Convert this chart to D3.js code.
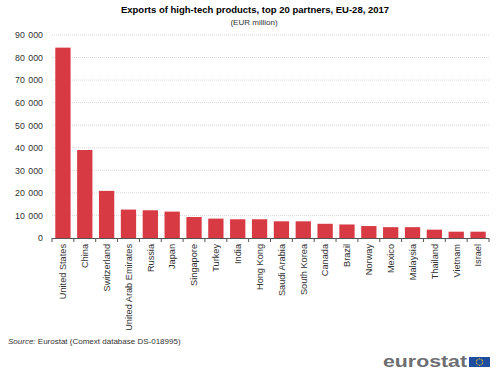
<!DOCTYPE html>
<html>
<head>
<meta charset="utf-8">
<script src="https://cdn.jsdelivr.net/npm/d3@7"></script>
<style>
  body { margin: 0; background: #fff; }
  text { font-family: "Liberation Sans", Arial, sans-serif; fill: #333; }
</style>
</head>
<body>
<div id="chart"></div>
<script>
// partners, EUR million
var partners = ["United States", "China", "Switzerland", "United Arab Emirates", "Russia",
    "Japan", "Singapore", "Turkey", "India", "Hong Kong", "Saudi Arabia", "South Korea",
    "Canada", "Brazil", "Norway", "Mexico", "Malaysia", "Thailand", "Vietnam", "Israel"];
var exportsEur = [84400, 39000, 20900, 12600, 12300, 11700, 9300, 8600, 8300, 8300,
    7400, 7400, 6300, 6000, 5300, 4800, 4800, 3700, 2800, 2800];
var yTicks = [0, 10000, 20000, 30000, 40000, 50000, 60000, 70000, 80000, 90000];

var width = 500, height = 385;
var margin = {left: 52, right: 11, top: 35, bottom: 147};

var svg = d3.select("#chart").append("svg")
    .attr("width", width)
    .attr("height", height);

var x = d3.scaleBand()
    .domain(partners)
    .range([margin.left, width - margin.right])
    .paddingInner(0.3)
    .paddingOuter(0.15);

var y = d3.scaleLinear()
    .domain([0, 90000])
    .range([height - margin.bottom, margin.top]);

var fmt = function (d) { return d3.format(",")(d).replace(/,/g, " "); };

// title
svg.append("text")
    .attr("x", 255).attr("y", 13)
    .attr("text-anchor", "middle")
    .style("font-size", "9.5px").style("font-weight", "bold")
    .style("fill", "#000")
    .text("Exports of high-tech products, top 20 partners, EU-28, 2017");
svg.append("text")
    .attr("x", 254).attr("y", 25)
    .attr("text-anchor", "middle")
    .style("font-size", "8px")
    .text("(EUR million)");

// gridlines
svg.append("g").selectAll("line")
    .data(yTicks.filter(function (d) { return d > 0; }))
    .enter().append("line")
    .attr("x1", margin.left).attr("x2", width - margin.right)
    .attr("y1", function (d) { return y(d); })
    .attr("y2", function (d) { return y(d); })
    .style("stroke", "#d9d9d9")
    .style("stroke-width", 1)
    .style("stroke-dasharray", "1,1");

// y axis labels
var yAxis = d3.axisLeft(y).tickValues(yTicks).tickFormat(fmt).tickSize(0).tickPadding(9);
var gy = svg.append("g")
    .attr("transform", "translate(" + margin.left + ",0)")
    .call(yAxis);
gy.select(".domain").remove();
gy.selectAll("text")
    .style("font-size", "8.8px")
    .style("font-family", "Liberation Sans, Arial, sans-serif")
    .style("word-spacing", "1px")
    .style("fill", "#333");

// bars
svg.append("g").selectAll("rect")
    .data(exportsEur)
    .enter().append("rect")
    .attr("x", function (d, i) { return x(partners[i]); })
    .attr("y", function (d) { return y(d); })
    .attr("width", x.bandwidth())
    .attr("height", function (d) { return y(0) - y(d); })
    .style("fill", "#d73a43");

// x axis
var x0 = y(0);
var gx = svg.append("g");
gx.append("line")
    .attr("x1", margin.left).attr("x2", width - margin.right)
    .attr("y1", x0 + 0.5).attr("y2", x0 + 0.5)
    .style("stroke", "#555");
var bounds = d3.range(partners.length + 1).map(function (i) { return margin.left + i * (width - margin.left - margin.right) / partners.length; });
gx.selectAll(".tk")
    .data(bounds)
    .enter().append("line")
    .attr("class", "tk")
    .attr("x1", function (d) { return d; }).attr("x2", function (d) { return d; })
    .attr("y1", x0).attr("y2", x0 + 4)
    .style("stroke", "#555");
gx.selectAll("text")
    .data(partners)
    .enter().append("text")
    .attr("transform", function (d) {
        return "translate(" + (x(d) + x.bandwidth() / 2 + 3.3) + "," + (x0 + 6) + ") rotate(-90)";
    })
    .attr("text-anchor", "end")
    .style("font-size", "9.2px")
    .text(function (d) { return d; });

// source
var src = svg.append("text")
    .attr("x", 8).attr("y", 344)
    .style("font-size", "8px");
src.append("tspan").style("font-style", "italic").text("Source:");
src.append("tspan").text(" Eurostat (Comext database DS-018995)");

// logo
svg.append("text")
    .attr("x", 383).attr("y", 367)
    .attr("textLength", 84)
    .attr("lengthAdjust", "spacingAndGlyphs")
    .style("font-size", "16px").style("font-weight", "bold")
    .style("fill", "#6d6e71")
    .text("eurostat");
svg.append("rect")
    .attr("x", 469).attr("y", 357)
    .attr("width", 21).attr("height", 10)
    .style("fill", "#1f4ea1");
var stars = d3.range(12).map(function (i) { return i * Math.PI / 6; });
svg.append("g").selectAll("circle")
    .data(stars)
    .enter().append("circle")
    .attr("cx", function (a) { return 479.5 + 3.2 * Math.cos(a); })
    .attr("cy", function (a) { return 362 + 3.2 * Math.sin(a); })
    .attr("r", 0.55)
    .style("fill", "#ffd617");
</script>
</body>
</html>
